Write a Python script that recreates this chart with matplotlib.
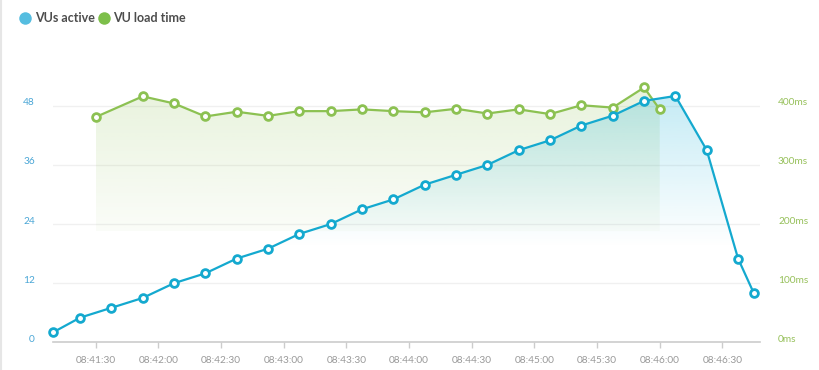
import matplotlib
matplotlib.use("Agg")
import matplotlib.pyplot as plt
import numpy as np
from matplotlib.lines import Line2D
from matplotlib.transforms import offset_copy

# seconds after 08:41:00
blue_times = [9.5, 22.5, 37.5, 52.5, 67.5, 82.5, 97.5, 112.5, 127.5, 142.5, 157.5, 172.5,
              187.5, 202.5, 217.5, 232.5, 247.5, 262.5, 277.5, 292.5, 307.5, 322.5, 337.5, 345]
vus_active = [2, 5, 7, 9, 12, 14, 17, 19, 22, 24, 27, 29,
              32, 34, 36, 39, 41, 44, 46, 49, 50, 39, 17, 10]

green_times = [30, 52.5, 67.5, 82.5, 97.5, 112.5, 127.5, 142.5, 157.5, 172.5,
               187.5, 202.5, 217.5, 232.5, 247.5, 262.5, 277.5, 292.5, 300]
load_time_ms = [381, 416, 404, 382, 390, 383, 391, 391, 394, 391,
                389, 395, 387, 394, 386, 401, 397, 431, 394]

x_ticks = [30, 60, 90, 120, 150, 180, 210, 240, 270, 300, 330]
x_labels = ["08:41:30", "08:42:00", "08:42:30", "08:43:00", "08:43:30", "08:44:00",
            "08:44:30", "08:45:00", "08:45:30", "08:46:00", "08:46:30"]
left_ticks = [0, 12, 24, 36, 48]
right_ticks = [0, 100, 200, 300, 400]

BLUE = "#14a9cf"
GREEN = "#8cc152"
MS_PER_UNIT = 100 / 12  # 48 VUs lines up with 400ms

plt.rcParams['font.family'] = ['Lato', 'DejaVu Sans']


def gradient_fill(ax, x, y, base, color, y_top, y_bot, a_top, a_bot, zorder):
    # fill under a line with a vertical alpha gradient
    poly = ax.fill_between(x, y, base, facecolor="none", edgecolor="none")
    rgb = matplotlib.colors.to_rgb(color)
    n = 200
    img = np.zeros((n, 1, 4))
    img[:, 0, :3] = rgb
    img[:, 0, 3] = np.clip(np.linspace(a_top, a_bot, n), 0, 1)
    im = ax.imshow(img, aspect="auto", extent=[min(x), max(x), y_bot, y_top],
                   origin="upper", zorder=zorder, interpolation="bilinear")
    im.set_clip_path(poly.get_paths()[0], transform=ax.transData)
    return im


fig = plt.figure(figsize=(8.2, 3.7), dpi=100)
W, H = 820, 370
ax = fig.add_axes([53 / W, 1 - 342.3 / H, (760 - 53) / W, (342.3 - 60) / H])
ax2 = ax.twinx()

ymax = 57.3
ax.set_xlim(9.56, 348.0)

# green series is drawn on the left axis, scaled to the ms axis
green_units = [v / MS_PER_UNIT for v in load_time_ms]

for t in left_ticks[1:]:
    ax.axhline(t, color="#f0f0f0", lw=1, zorder=0)

gradient_fill(ax, green_times, green_units, 22.6, GREEN, max(green_units), 22.6, 0.2, 0.04, 1)
gradient_fill(ax, blue_times, vus_active, 0, "#20b4da", max(vus_active), 0, 0.26, -0.16, 1.5)

ax.plot(green_times, green_units, color=GREEN, lw=1.6, marker="o", ms=5.6,
        mfc="white", mec=GREEN, mew=2.0, zorder=3, clip_on=False)
ax.plot(blue_times, vus_active, color=BLUE, lw=1.6, marker="o", ms=5.6,
        mfc="white", mec=BLUE, mew=2.0, zorder=4, clip_on=False)
ax.set_ylim(0, ymax)
ax2.set_ylim(0, ymax * MS_PER_UNIT)

for a in (ax, ax2):
    for s in a.spines.values():
        s.set_visible(False)
ax.spines["bottom"].set_visible(True)
ax.spines["bottom"].set_color("#cccccc")
ax.spines["bottom"].set_linewidth(1.2)

ax.set_yticks(left_ticks)
ax.set_yticklabels([str(t) for t in left_ticks])
ax.tick_params(axis="y", length=0, pad=13, labelsize=7.3, labelcolor="#4aa6d6")

ax2.set_yticks(right_ticks)
ax2.set_yticklabels([f"{t}ms" for t in right_ticks])
ax2.tick_params(axis="y", length=0, pad=13, labelsize=7.3, labelcolor="#96c05a")

ax.set_xticks(x_ticks)
ax.set_xticklabels(x_labels)
ax.tick_params(axis="x", length=4, width=1, color="#cccccc", pad=6,
               labelsize=7.3, labelcolor="#999999")

# lift y labels slightly above the grid lines like the original
for lab in ax.get_yticklabels() + ax2.get_yticklabels():
    lab.set_transform(offset_copy(lab.get_transform(), fig=fig, x=0, y=4, units="dots"))

# legend
fig.add_artist(Line2D([25 / W], [1 - 17.5 / H], marker="o", ms=9, color="#55bde0",
                      mec="none", transform=fig.transFigure))
fig.text(35 / W, 1 - 17.5 / H, "VUs active", fontsize=9, fontweight="bold",
         color="#4d4d4d", va="center", ha="left")
fig.add_artist(Line2D([104 / W], [1 - 17.5 / H], marker="o", ms=9, color="#7dbf4a",
                      mec="none", transform=fig.transFigure))
fig.text(113 / W, 1 - 17.5 / H, "VU load time", fontsize=9, fontweight="bold",
         color="#4d4d4d", va="center", ha="left")

# faint border at the left edge
fig.add_artist(Line2D([1.5 / W, 1.5 / W], [0, 1], color="#e6e6e6", lw=1.5,
                      transform=fig.transFigure))

plt.savefig("out.png", dpi=100)
